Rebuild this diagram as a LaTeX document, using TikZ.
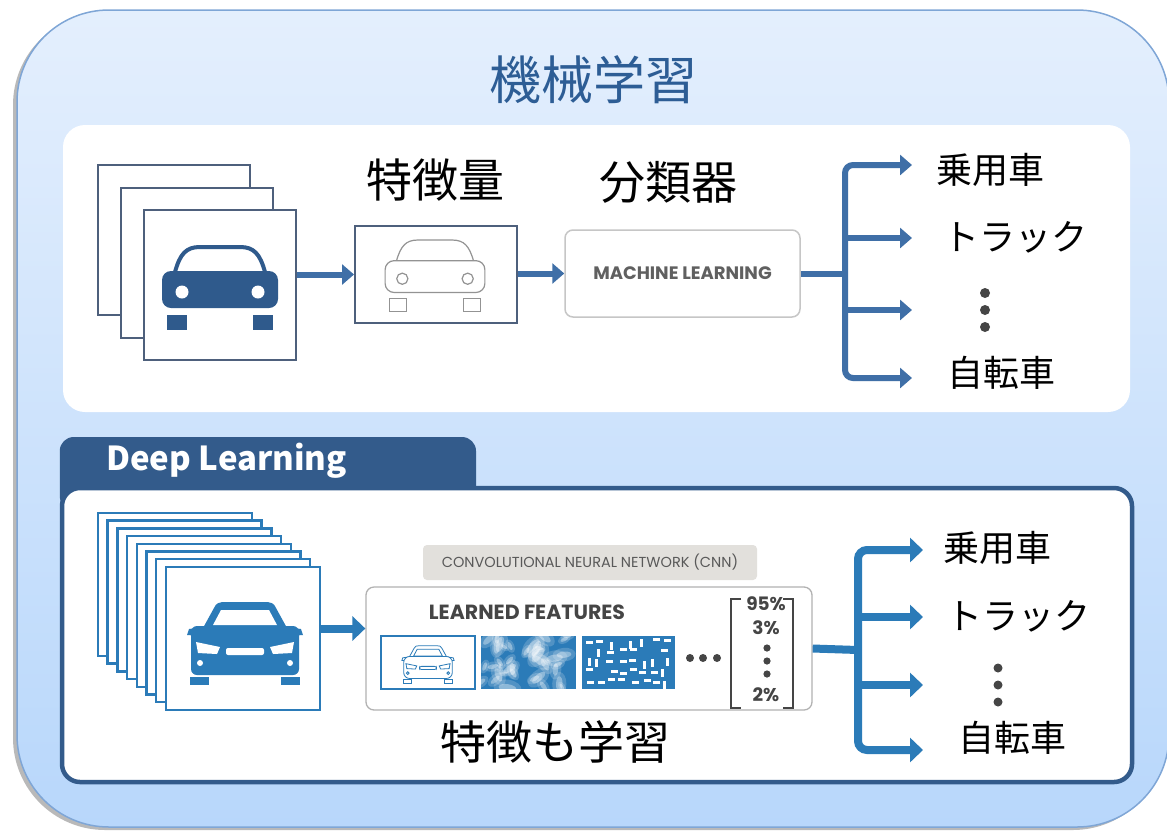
\documentclass[tikz,border=0pt]{standalone}
\usepackage{fontspec}
\setmainfont{Noto Sans CJK JP}
\newfontfamily\geo{Poppins}
\usetikzlibrary{arrows.meta,shadows}

\definecolor{paneltop}{HTML}{E4EFFD}
\definecolor{panelbot}{HTML}{B8D7FB}
\definecolor{rimblue}{HTML}{7FA6D6}
\definecolor{titleblue}{HTML}{2D5D95}
\definecolor{dlblue}{HTML}{335B8B}
\definecolor{navy}{HTML}{2F5A8C}
\definecolor{slate}{HTML}{4E607C}
\definecolor{flowblue}{HTML}{3F6FA7}
\definecolor{cnnblue}{HTML}{2B7BB8}
\definecolor{inkgray}{HTML}{454545}
\definecolor{chipgray}{HTML}{E2E0DC}

\tikzset{
  photo/.style={draw=slate, line width=2pt, fill=white, minimum width=152pt, minimum height=150pt, inner sep=0pt},
  frame/.style={draw=cnnblue, line width=2.5pt, fill=white, minimum width=154pt, minimum height=143pt, inner sep=0pt},
  trunk/.style={draw=flowblue, line width=6pt},
  flow/.style={trunk, -{Triangle[length=12pt,width=20pt]}},
  trunkb/.style={draw=cnnblue, line width=8pt},
  flowb/.style={trunkb, -{Triangle[length=13pt,width=24pt]}},
  bigjp/.style={font=\fontsize{46}{50}\selectfont, text=black, inner sep=0pt},
  classjp/.style={font=\fontsize{36}{40}\selectfont, text=black, inner sep=0pt},
  caps/.style={font=\geo\bfseries\fontsize{#1}{#1}\selectfont, text=inkgray, inner sep=0pt},
  % car parts, overridden for the line drawings
  carroof/.style={draw=navy, line width=4pt},
  carpaint/.style={fill=navy},
  carhole/.style={fill=white},
  pics/oldcar/.style={code={
    \draw[carroof] (-45,-18) .. controls (-40,-36) and (-34,-43) .. (-20,-43) -- (20,-43) .. controls (34,-43) and (40,-36) .. (45,-18);
    \path[carpaint, rounded corners=9pt] (-58,-19) rectangle (58,18);
    \path[carhole] (-38,2) circle (6.5pt);
    \path[carhole] (38,2) circle (6.5pt);
    \path[carpaint] (-53,25) rectangle (-33,40);
    \path[carpaint] (33,25) rectangle (53,40);
  }},
  pics/sedan/.style={code={
    \path[carpaint] (-42,-17) -- (-31,-37) .. controls (-29,-42) and (-26,-43) .. (-19,-43) -- (19,-43) .. controls (26,-43) and (29,-42) .. (31,-37) -- (42,-17) -- cycle;
    \path[carhole] (-32,-20) -- (-24,-35) -- (24,-35) -- (32,-20) -- cycle;
    \path[carpaint] (-42,-18) -- (-56,-16) -- (-58,-10) -- (-44,-9) -- cycle;
    \path[carpaint] (42,-18) -- (56,-16) -- (58,-10) -- (44,-9) -- cycle;
    \path[carpaint, rounded corners=6pt] (-54,-19) rectangle (54,30);
    \path[carhole] (-49,-3) -- (-25,2) -- (-28,9) -- (-47,8) -- cycle;
    \path[carhole] (49,-3) -- (25,2) -- (28,9) -- (47,8) -- cycle;
    \path[carhole, rounded corners=2pt] (-19,3) rectangle (19,10);
    \path[carhole] (-45,18) circle (3pt);
    \path[carhole] (45,18) circle (3pt);
    \path[carpaint] (-55,32) rectangle (-36,40);
    \path[carpaint] (36,32) rectangle (55,40);
  }}
}

\begin{document}
\begin{tikzpicture}[x=1pt,y=-1pt]
  \useasboundingbox (0,0) rectangle (1167,831);

  % backdrop
  \path[top color=paneltop, bottom color=panelbot, draw=rimblue, line width=1.5pt, rounded corners=92pt,
        drop shadow={shadow xshift=-4pt, shadow yshift=-3pt, opacity=.55}] (17,10) rectangle (1169,827);
  \node[font=\fontsize{52}{56}\selectfont, text=titleblue, inner sep=0pt] (title) at (593,80) {機械学習};

  % classic pipeline
  \fill[white, rounded corners=22pt] (63,125) rectangle (1130,412);
  \foreach \i in {0,1,2}
    \node[photo] (photo\i) at ({174+23*\i},{240+22.5*\i}) {};
  \pic at (220,290) {oldcar};
  \node[draw=slate, line width=2pt, minimum width=162pt, minimum height=97pt] (feat) at (436,274.5) {};
  \pic[scale=0.86, carroof/.style={draw=gray!85, line width=1.2pt},
       carpaint/.style={draw=gray!85, line width=1.2pt, fill=white},
       carhole/.style={draw=gray!85, line width=1.2pt, fill=white}] at (435,277) {oldcar};
  \node[bigjp] (featlabel) at (435,180) {特徴量};
  \node[draw=gray!45, line width=1.5pt, rounded corners=8pt, minimum width=235pt, minimum height=87pt] (ml) at (682.5,273.5) {};
  \node[caps=18, text=gray!75!black] at (ml) {MACHINE LEARNING};
  \node[bigjp] (mllabel) at (668,182) {分類器};

  \draw[flow] (feat.west -| photo2.east) -- (feat.west);
  \draw[flow] (ml.west -| feat.east) -- (ml.west);

  \coordinate (fork) at (845,273.5);
  \coordinate (tipa) at (912,165);
  \coordinate (tipb) at (912,238);
  \coordinate (tipc) at (912,310);
  \coordinate (tipd) at (912,378);
  \draw[trunk] (ml.east) -- (fork);
  \draw[trunk, rounded corners=8pt, {Triangle[length=12pt,width=20pt]}-{Triangle[length=12pt,width=20pt]}] (tipa) -| (fork) |- (tipd);
  \draw[flow] (fork |- tipb) -- (tipb);
  \draw[flow] (fork |- tipc) -- (tipc);
  \node[classjp] (cara) at (990,170) {乗用車};
  \node[classjp] (truca) at (1015,237) {トラック};
  \foreach \y in {293,310,327}
    \fill[inkgray] (985,\y) circle (5pt);
  \node[classjp] (bikea) at (1001,373) {自転車};

  % deep learning pipeline
  \fill[dlblue, rounded corners=14pt] (59.75,437) rectangle (476,510);
  \node[font=\bfseries\fontsize{33}{38}\selectfont, text=white, anchor=west, inner sep=0pt] (dltab) at (106,461) {Deep Learning};
  \draw[dlblue, fill=white, line width=4.5pt, rounded corners=18pt] (62,488) rectangle (1132,782);

  \foreach \i in {0,...,7}
    \node[frame] (frame\i) at ({175+9.7*\i},{584.5+7.7*\i}) {};
  \pic[carpaint/.style={fill=cnnblue}] at (245,645) {sedan};

  \node[fill=chipgray, rounded corners=4pt, minimum width=334pt, minimum height=35pt, inner sep=0pt] (cnnchip) at (590,562.5) {};
  \node[font=\geo\fontsize{14.5}{16}\selectfont, text=gray!70!black] at (cnnchip) {CONVOLUTIONAL NEURAL NETWORK (CNN)};
  \node[draw=gray!60, line width=1.3pt, rounded corners=8pt, minimum width=446pt, minimum height=123pt] (cnn) at (589,648.5) {};
  \node[caps=20.5] (learned) at (527,612) {LEARNED FEATURES};

  % feature maps
  \node[draw=cnnblue, line width=2pt, fill=white, minimum width=94pt, minimum height=53pt, inner sep=0pt] (fmapa) at (428,662.5) {};
  \pic[scale=0.45, carpaint/.style={draw=cnnblue, line width=0.8pt, fill=white},
       carhole/.style={draw=cnnblue, line width=0.8pt, fill=white}] at (428,665) {sedan};
  \node[fill=cnnblue, minimum width=95pt, minimum height=53pt, inner sep=0pt] (fmapb) at (528.5,662.5) {};
  \node[fill=cnnblue, minimum width=93pt, minimum height=53pt, inner sep=0pt] (fmapc) at (628.5,662.5) {};
  \pgfmathsetseed{11}
  \begin{scope}
    \clip (fmapb.north west) rectangle (fmapb.south east);
    \foreach \k in {1,...,40}{
      \pgfmathsetmacro\bx{rnd*95}
      \pgfmathsetmacro\by{rnd*53}
      \pgfmathsetmacro\br{2.5+rnd*4}
      \pgfmathsetmacro\ang{rnd*180}
      \fill[white, opacity=.18] ([shift={(\bx,\by)}]fmapb.north west) circle [x radius=\br*2.2pt, y radius=\br*1.3pt, rotate=\ang];
      \fill[white, opacity=.35] ([shift={(\bx,\by)}]fmapb.north west) circle [x radius=\br*1.4pt, y radius=\br*0.6pt, rotate=\ang];
    }
  \end{scope}
  \begin{scope}
    \clip (fmapc.north west) rectangle (fmapc.south east);
    \foreach \gx in {0,...,7}
      \foreach \gy in {0,...,4}{
        \pgfmathsetmacro\bx{2+\gx*11+rnd*5}
        \pgfmathsetmacro\by{2+\gy*10+rnd*4}
        \pgfmathtruncatemacro\vert{rnd<0.4}
        \pgfmathtruncatemacro\skip{rnd<0.2}
        \ifnum\skip=0
          \ifnum\vert=1
            \fill[white] ([shift={(\bx,\by)}]fmapc.north west) rectangle ++(3,8);
          \else
            \fill[white] ([shift={(\bx,\by)}]fmapc.north west) rectangle ++(7,3);
          \fi
        \fi
      }
  \end{scope}
  \foreach \x in {690,703,717}
    \fill[inkgray] (\x,658) circle (4pt);

  % class scores
  \draw[inkgray, line width=2.5pt] (741,599) -- (731,599) -- (731,708) -- (741,708);
  \draw[inkgray, line width=2.5pt] (783,599) -- (793,599) -- (793,708) -- (783,708);
  \node[caps=18.5] (pcar) at (766,604) {95\%};
  \node[caps=18.5] (ptruck) at (766,628) {3\%};
  \foreach \y in {648,661,674}
    \fill[inkgray] (767,\y) circle (3.6pt);
  \node[caps=18.5] (pbike) at (766,695) {2\%};

  \draw[flowb] ([yshift=20pt]cnn.west -| frame7.east) -- ([yshift=20pt]cnn.west);

  \coordinate (forkb) at (858,650);
  \coordinate (tipe) at (923,550);
  \coordinate (tipf) at (923,617);
  \coordinate (tipg) at (923,685);
  \coordinate (tiph) at (923,750);
  \draw[trunkb] (cnn.east) -- (forkb);
  \draw[trunkb, rounded corners=9pt, {Triangle[length=13pt,width=24pt]}-{Triangle[length=13pt,width=24pt]}] (tipe) -| (forkb) |- (tiph);
  \draw[flowb] (forkb |- tipf) -- (tipf);
  \draw[flowb] (forkb |- tipg) -- (tipg);
  \node[classjp] (carb) at (997,548) {乗用車};
  \node[classjp] (trucb) at (1018,616) {トラック};
  \foreach \y in {668,685,702}
    \fill[inkgray] (998,\y) circle (4.5pt);
  \node[classjp] (bikeb) at (1012,738) {自転車};
  \node[bigjp] (alsolearn) at (555,742) {特徴も学習};
\end{tikzpicture}
\end{document}
